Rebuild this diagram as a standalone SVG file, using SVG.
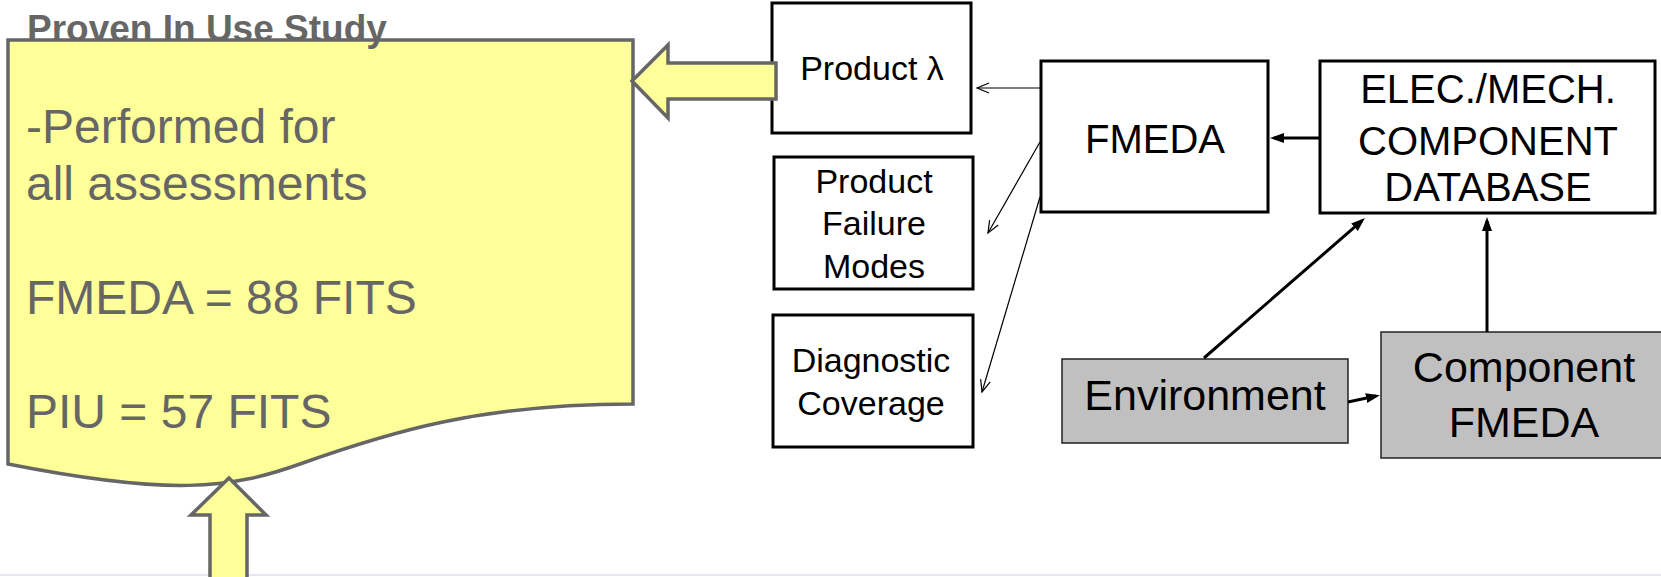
<svg xmlns="http://www.w3.org/2000/svg" width="1661" height="577" viewBox="0 0 1661 577">
<style>
.box{fill:#fff;stroke:#000;stroke-width:3}
.gbox{fill:#c0c0c0;stroke:#222;stroke-width:1.5}
.t{font-family:"Liberation Sans",Arial,sans-serif;fill:#000;text-anchor:middle}
.y{fill:#ffff99;stroke:#666;stroke-width:3.5;stroke-linejoin:miter}
.body{font-family:"Liberation Sans",Arial,sans-serif;fill:#666;font-size:48px}
.thin{stroke:#000;stroke-width:1.2;fill:none}
.thick{stroke:#000;stroke-width:3;fill:none}
</style>
<defs>
<marker id="open" markerWidth="15" markerHeight="12" refX="13" refY="6" orient="auto" markerUnits="userSpaceOnUse"><path d="M1,1 L13,6 L1,11" fill="none" stroke="#000" stroke-width="1.2"/></marker>
<marker id="solid" markerWidth="15" markerHeight="12" refX="10" refY="6" orient="auto" markerUnits="userSpaceOnUse"><path d="M0,1 L14,6 L0,11 Z" fill="#000"/></marker>
</defs>
<rect width="1661" height="577" fill="#fff"/>
<line x1="0" y1="575" x2="1661" y2="575" stroke="#dde0e8" stroke-width="1.5"/>

<g id="piu-study">
<path class="y" d="M8,40 H633 V404 C480,404 390,432 300,464 C230,489 170,496 8,464 Z"/>
<text x="27" y="41" font-family="'Liberation Sans',Arial,sans-serif" font-weight="bold" font-size="37" fill="#666">Proven In Use Study</text>
<text class="body" x="26" y="143">-Performed for</text>
<text class="body" x="26" y="200">all assessments</text>
<text class="body" x="26" y="314">FMEDA = 88 FITS</text>
<text class="body" x="26" y="428">PIU = 57 FITS</text>
</g>

<g id="product-lambda">
<rect class="box" x="772" y="3" width="199" height="130"/>
<text class="t" x="872" y="80" font-size="34">Product λ</text>
</g>

<g id="product-failure-modes">
<rect class="box" x="774" y="157" width="199" height="132"/>
<text class="t" x="874" y="193" font-size="34">Product</text>
<text class="t" x="874" y="235" font-size="34">Failure</text>
<text class="t" x="874" y="278" font-size="34">Modes</text>
</g>

<g id="diagnostic-coverage">
<rect class="box" x="773" y="315" width="200" height="132"/>
<text class="t" x="871" y="372" font-size="34">Diagnostic</text>
<text class="t" x="871" y="415" font-size="34">Coverage</text>
</g>

<g id="fmeda">
<rect class="box" x="1041" y="61" width="227" height="151"/>
<text class="t" x="1155" y="153" font-size="40">FMEDA</text>
</g>

<g id="component-database">
<rect class="box" x="1320" y="61" width="335" height="152"/>
<text class="t" x="1488" y="103" font-size="40">ELEC./MECH.</text>
<text class="t" x="1488" y="155" font-size="40">COMPONENT</text>
<text class="t" x="1488" y="201" font-size="40">DATABASE</text>
</g>

<g id="environment">
<rect class="gbox" x="1062" y="359" width="286" height="84"/>
<text class="t" x="1205" y="410" font-size="43">Environment</text>
</g>

<g id="component-fmeda">
<rect class="gbox" x="1381" y="332" width="290" height="126"/>
<text class="t" x="1524" y="382" font-size="43">Component</text>
<text class="t" x="1524" y="437" font-size="43">FMEDA</text>
</g>

<g id="connectors">
<line class="thin" x1="1040" y1="88" x2="977" y2="88" marker-end="url(#open)"/>
<line class="thin" x1="1040" y1="142" x2="988" y2="233" marker-end="url(#open)"/>
<line class="thin" x1="1040" y1="197" x2="982" y2="392" marker-end="url(#open)"/>
<line class="thick" x1="1320" y1="138" x2="1274" y2="138" marker-end="url(#solid)"/>
<line class="thick" x1="1204" y1="358" x2="1362" y2="220.6" marker-end="url(#solid)"/>
<line class="thick" x1="1487" y1="332" x2="1487" y2="221" marker-end="url(#solid)"/>
<line class="thick" x1="1348" y1="402" x2="1376" y2="396" marker-end="url(#solid)"/>
<polygon class="y" points="632,81 668,45 668,63 776,63 776,99 668,99 668,118"/>
<polygon class="y" points="229,478 266,515 247,515 247,582 210,582 210,515 191,515"/>
</g>
</svg>
